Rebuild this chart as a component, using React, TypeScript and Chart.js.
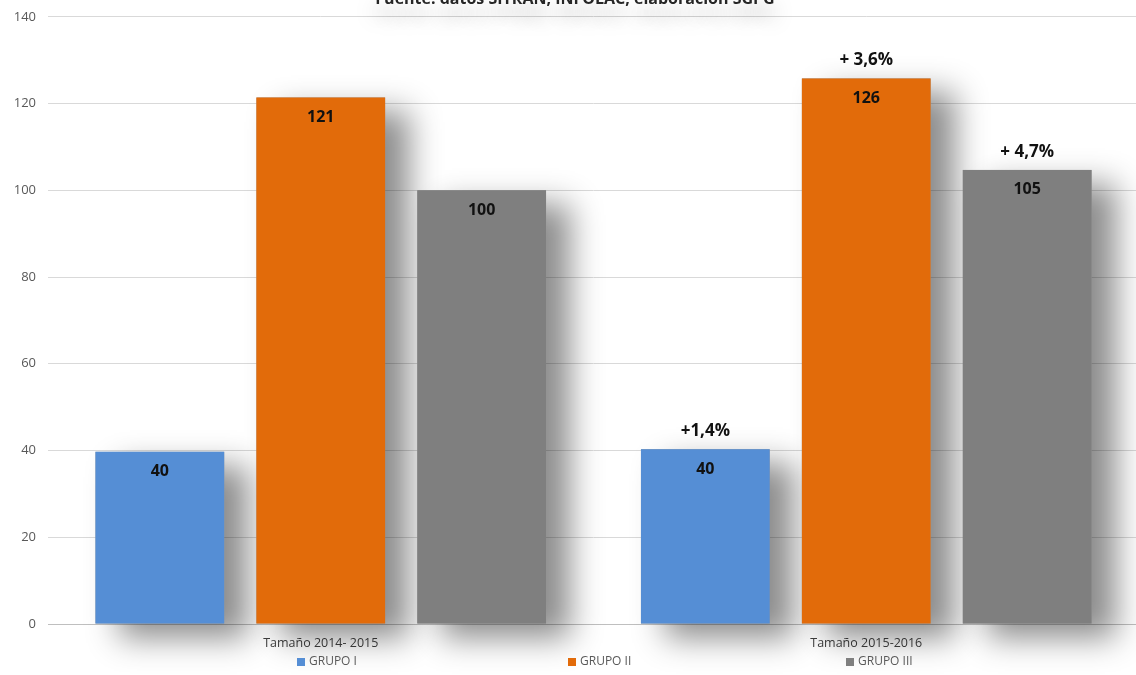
import { useEffect, useRef } from "react";
import { Chart, registerables } from "chart.js";
Chart.register(...registerables);

const categories = ["Tamaño 2014- 2015", "Tamaño 2015-2016"];
const seriesNames = ["GRUPO I", "GRUPO II", "GRUPO III"];
const grupo1 = [39.7, 40.3];
const grupo2 = [121.4, 125.8];
const grupo3 = [100, 104.7];
const change1 = ["", "+1,4%"];
const change2 = ["", "+ 3,6%"];
const change3 = ["", "+ 4,7%"];
const colors = ["#558ED5", "#E26B0A", "#7F7F7F"];
const titleText = "Fuente: datos SITRAN, INFOLAC, elaboración SGPG";

const FONT = "'Open Sans', 'Liberation Sans', sans-serif";
const OFFSET_Y = 3;

export default function App() {
  const ref = useRef<HTMLCanvasElement>(null);
  useEffect(() => {
    const changes = [change1, change2, change3];
    const shadowPlugin = {
      id: "barShadow",
      beforeDatasetsDraw(chart: any) {
        const ctx = chart.ctx;
        ctx.save();
        ctx.shadowColor = "rgba(0,0,0,0.45)";
        ctx.shadowBlur = 30;
        ctx.shadowOffsetX = 24;
        ctx.shadowOffsetY = 14;
        chart.data.datasets.forEach((_: any, di: number) => {
          const meta = chart.getDatasetMeta(di);
          meta.data.forEach((bar: any) => {
            const p = bar.getProps(["x", "y", "base", "width"], true);
            ctx.fillStyle = "#999";
            ctx.fillRect(p.x - p.width / 2, p.y, p.width, p.base - p.y);
          });
        });
        ctx.restore();
      },
    };
    const labelPlugin = {
      id: "labels",
      afterDatasetsDraw(chart: any) {
        const ctx = chart.ctx;
        ctx.save();
        ctx.textAlign = "center";
        ctx.textBaseline = "middle";
        ctx.fillStyle = "#111";
        chart.data.datasets.forEach((ds: any, di: number) => {
          const meta = chart.getDatasetMeta(di);
          meta.data.forEach((bar: any, i: number) => {
            const p = bar.getProps(["x", "y"], true);
            ctx.font = `bold 16px ${FONT}`;
            ctx.fillText(String(Math.round(ds.data[i])), p.x, p.y + 20);
            const c = changes[di][i];
            if (c) {
              ctx.font = `bold 17px ${FONT}`;
              ctx.fillText(c, p.x, p.y - 18);
            }
          });
        });
        ctx.restore();
      },
    };
    const decorPlugin = {
      id: "decor",
      afterDraw(chart: any) {
        const ctx = chart.ctx;
        ctx.save();
        // title (cut off at top)
        ctx.font = `bold 16px ${FONT}`;
        ctx.textAlign = "center";
        ctx.textBaseline = "alphabetic";
        ctx.shadowColor = "rgba(0,0,0,0.35)";
        ctx.shadowBlur = 20;
        ctx.shadowOffsetY = 14;
        ctx.fillStyle = "#262626";
        ctx.fillText(titleText, 575, 4 + OFFSET_Y);
        ctx.shadowColor = "transparent";
        // legend
        const legendX = [297, 568, 846];
        ctx.font = `12px ${FONT}`;
        ctx.textAlign = "left";
        ctx.textBaseline = "middle";
        seriesNames.forEach((n, i) => {
          ctx.fillStyle = colors[i];
          ctx.fillRect(legendX[i], 658 + OFFSET_Y, 8, 8);
          ctx.fillStyle = "#595959";
          ctx.fillText(n, legendX[i] + 12, 662 + OFFSET_Y);
        });
        ctx.restore();
      },
    };
    const chart = new Chart(ref.current!, {
      type: "bar",
      data: {
        labels: categories,
        datasets: [grupo1, grupo2, grupo3].map((d, i) => ({
          label: seriesNames[i],
          data: d,
          backgroundColor: colors[i],
          borderWidth: 0,
          categoryPercentage: 0.885,
          barPercentage: 0.8,
          clip: false as any,
        })),
      },
      options: {
        animation: false,
        responsive: true,
        maintainAspectRatio: false,
        layout: { padding: { top: 16, left: 0, right: 0, bottom: 0 } },
        plugins: {
          legend: { display: false },
          tooltip: { enabled: false },
          title: { display: false },
        },
        scales: {
          y: {
            min: 0,
            max: 140,
            ticks: {
              stepSize: 20,
              color: "#595959",
              font: { family: FONT, size: 13 },
              padding: 12,
            },
            grid: { color: "#d9d9d9", drawTicks: false },
            border: { display: false },
            afterFit: (s: any) => {
              s.width = 48;
            },
          },
          x: {
            grid: { display: false, drawTicks: false },
            border: { display: true, color: "#bfbfbf" },
            ticks: {
              color: "#404040",
              font: { family: FONT, size: 12.5 },
              padding: 12,
            },
            afterFit: (s: any) => {
              s.height = 51;
            },
          },
        },
      },
      plugins: [shadowPlugin, labelPlugin, decorPlugin],
    });
    return () => chart.destroy();
  }, []);
  return (
    <div
      style={{
        position: "fixed",
        left: 0,
        top: -OFFSET_Y,
        width: 1139,
        height: 675 + OFFSET_Y,
        background: "#fff",
      }}
    >
      <canvas ref={ref} />
    </div>
  );
}
